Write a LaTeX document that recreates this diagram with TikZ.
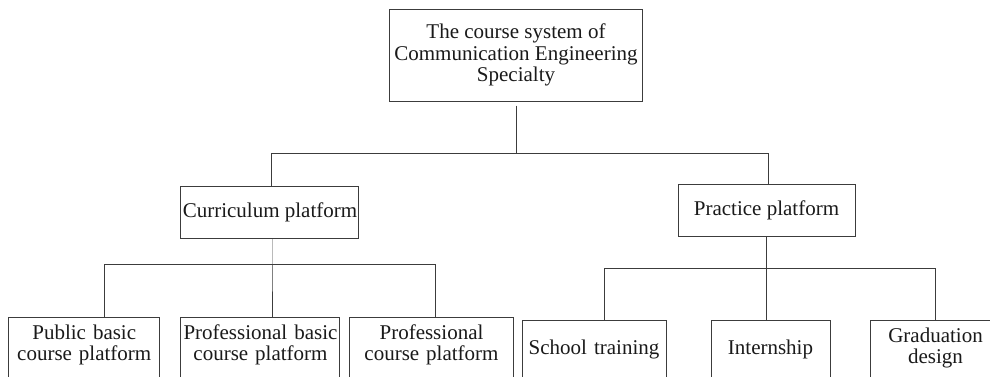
\documentclass[tikz,border=0pt]{standalone}
\usepackage{fontspec}
\setmainfont{Liberation Serif}
\usepackage{xcolor}
\usepackage{tikz}
\usetikzlibrary{positioning}
\definecolor{frame}{HTML}{3C3C3C}
\definecolor{ink}{HTML}{1A1A1A}

\begin{document}
\begin{tikzpicture}[
    box/.style={draw=frame, line width=0.5pt, rectangle, text=ink, align=center, font=\fontsize{10.5pt}{10.75pt}\selectfont},
    leaf/.style={box, inner sep=0pt, text height=11pt, text depth=40pt},
    link/.style={draw=frame, line width=0.5pt}]
    % Frame
    \path[use as bounding box, fill=white] (-258pt,27.5pt) rectangle (237pt,-160.5pt);
    \clip (-258pt,27.5pt) rectangle (237pt,-160.5pt);

    % Nodes
    \node [box, minimum width=126pt, minimum height=46pt, inner xsep=1pt] (system) at (0,0) {The course system of\\ Communication Engineering\\ Specialty};

    \node [box, minimum width=89pt, minimum height=26pt, inner xsep=0.5pt, below=42pt of system, xshift=-123pt] (curriculum) {Curriculum platform};

    \node [box, minimum width=88.5pt, minimum height=26pt, inner xsep=0.5pt, right=159pt of curriculum, yshift=1pt] (practice) {Practice platform};

    \node [leaf, text width=79.5pt, below=39pt of curriculum, xshift=-4.75pt] (probasic) {Professional basic\\ course platform};

    \node [leaf, text width=75.75pt, left=10pt of probasic] (public) {Public basic\\ course platform};

    \node [leaf, text width=81.5pt, right=4.5pt of probasic] (professional) {Professional\\ course platform};

    \node [leaf, text width=72pt, text height=17pt, right=4pt of professional.north east, anchor=north west, yshift=-1.5pt] (school) {School training};

    \node [leaf, text width=59.5pt, text height=17pt, right=22pt of school] (internship) {Internship};

    \node [leaf, text width=65.5pt, right=19.5pt of internship.north east, anchor=north west] (graduation) {Graduation\\ design};

    % Paths
    \draw[link, shorten <=2pt] (system.south) -- ++(0,-26pt) coordinate (topbus);
    \draw[link] ([xshift=1pt]curriculum.north) |- (topbus) -| ([xshift=0.75pt]practice.north);

    \draw[link] ([xshift=1.5pt]curriculum.south) -- ++(0,-13pt) coordinate (leftbus) -- (leftbus |- probasic.north);
    \draw[link] ([xshift=10.25pt]public.north) |- (leftbus) -| ([xshift=2.25pt]professional.north);

    \draw[link] (practice.south) -- ++(0,-16pt) coordinate (rightbus) -- (rightbus |- internship.north);
    \draw[link] ([xshift=5pt]school.north) |- (rightbus) -| (graduation.north);
\end{tikzpicture}
\end{document}
